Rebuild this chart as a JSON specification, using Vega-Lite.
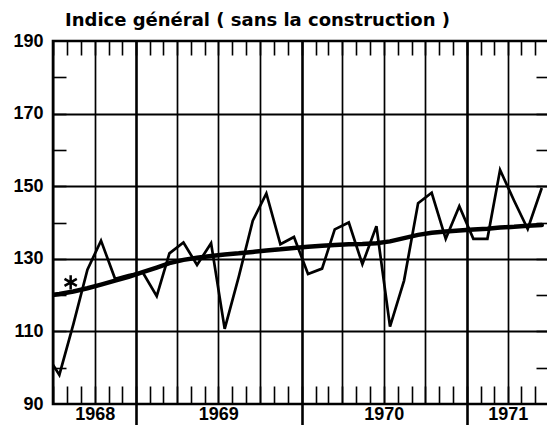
{
  "$schema": "https://vega.github.io/schema/vega-lite/v6.json",
  "width": 496,
  "height": 363,
  "autosize": {"type": "none"},
  "padding": {"left": 53, "top": 41, "right": 0, "bottom": 21},
  "background": "white",
  "title": {
    "text": "Indice général ( sans la construction )",
    "anchor": "start",
    "frame": "group",
    "dx": 12,
    "offset": -12,
    "baseline": "alphabetic",
    "font": "DejaVu Sans",
    "fontSize": 18,
    "fontWeight": "bold",
    "color": "black"
  },
  "datasets": {
    "serie": [
      {"date": "1968-06-15", "indice": 104, "tendance": 119.8},
      {"date": "1968-07-15", "indice": 98, "tendance": 120.3},
      {"date": "1968-08-15", "indice": 112, "tendance": 121},
      {"date": "1968-09-15", "indice": 127, "tendance": 121.9},
      {"date": "1968-10-15", "indice": 135, "tendance": 122.9},
      {"date": "1968-11-15", "indice": 124.5, "tendance": 124},
      {"date": "1968-12-15", "indice": 125.5, "tendance": 125},
      {"date": "1969-01-15", "indice": 126.3, "tendance": 126.3},
      {"date": "1969-02-15", "indice": 119.7, "tendance": 127.6},
      {"date": "1969-03-15", "indice": 131.5, "tendance": 128.8},
      {"date": "1969-04-15", "indice": 134.5, "tendance": 129.7},
      {"date": "1969-05-15", "indice": 128.3, "tendance": 130.3},
      {"date": "1969-06-15", "indice": 134.3, "tendance": 130.8},
      {"date": "1969-07-15", "indice": 110.7, "tendance": 131.2},
      {"date": "1969-08-15", "indice": 125, "tendance": 131.5},
      {"date": "1969-09-15", "indice": 140.5, "tendance": 131.9},
      {"date": "1969-10-15", "indice": 148, "tendance": 132.3},
      {"date": "1969-11-15", "indice": 134, "tendance": 132.6},
      {"date": "1969-12-15", "indice": 136, "tendance": 133},
      {"date": "1970-01-15", "indice": 125.8, "tendance": 133.3},
      {"date": "1970-02-15", "indice": 127.3, "tendance": 133.6},
      {"date": "1970-03-15", "indice": 138.1, "tendance": 133.8},
      {"date": "1970-04-15", "indice": 140, "tendance": 134},
      {"date": "1970-05-15", "indice": 128.5, "tendance": 134.1},
      {"date": "1970-06-15", "indice": 139, "tendance": 134.3},
      {"date": "1970-07-15", "indice": 111.3, "tendance": 134.8},
      {"date": "1970-08-15", "indice": 124, "tendance": 135.7},
      {"date": "1970-09-15", "indice": 145.3, "tendance": 136.6},
      {"date": "1970-10-15", "indice": 148.2, "tendance": 137.2},
      {"date": "1970-11-15", "indice": 135.5, "tendance": 137.5},
      {"date": "1970-12-15", "indice": 144.5, "tendance": 137.8},
      {"date": "1971-01-15", "indice": 135.5, "tendance": 138.1},
      {"date": "1971-02-15", "indice": 135.5, "tendance": 138.3},
      {"date": "1971-03-15", "indice": 154.5, "tendance": 138.6},
      {"date": "1971-04-15", "indice": 146, "tendance": 138.8},
      {"date": "1971-05-15", "indice": 138.2, "tendance": 139.1},
      {"date": "1971-06-15", "indice": 149.5, "tendance": 139.3}
    ],
    "asterisque": [
      {"date": "1968-08-09", "indice": 123.5}
    ]
  },
  "layer": [
    {
      "data": {"name": "serie"},
      "mark": {"type": "line", "color": "black", "strokeWidth": 2.7, "clip": true, "strokeJoin": "miter"},
      "encoding": {
        "x": {
          "field": "date",
          "type": "temporal",
          "scale": {
            "type": "utc",
            "domain": [
              {"year": 1968, "month": 7, "date": 1, "utc": true},
              {"year": 1971, "month": 7, "date": 1, "utc": true}
            ]
          },
          "axis": {
            "orient": "bottom",
            "title": null,
            "values": [
              {"year": 1968, "month": 10, "date": 1, "utc": true},
              {"year": 1969, "month": 1, "date": 1, "utc": true},
              {"year": 1969, "month": 7, "date": 1, "utc": true},
              {"year": 1970, "month": 1, "date": 1, "utc": true},
              {"year": 1970, "month": 7, "date": 1, "utc": true},
              {"year": 1971, "month": 1, "date": 1, "utc": true},
              {"year": 1971, "month": 4, "date": 1, "utc": true}
            ],
            "labelExpr": "utcmonth(datum.value) === 0 ? '' : utcFormat(datum.value, '%Y')",
            "labelFontSize": 18,
            "labelPadding": -21,
            "labelFlush": false,
            "labelOverlap": false,
            "tickSize": 22,
            "tickWidth": 2.6,
            "tickColor": "black",
            "tickOpacity": {"condition": {"test": "utcmonth(datum.value) === 0", "value": 1}, "value": 0},
            "grid": false,
            "domain": false
          }
        },
        "y": {
          "field": "indice",
          "type": "quantitative",
          "scale": {"domain": [90, 190], "nice": false, "zero": false},
          "axis": {
            "orient": "left",
            "title": null,
            "values": [90, 110, 130, 150, 170, 190],
            "ticks": false,
            "labelPadding": 10,
            "labelFontSize": 18,
            "labelFlush": false,
            "labelOverlap": false,
            "grid": false,
            "domain": false
          }
        }
      }
    },
    {
      "data": {"name": "serie"},
      "mark": {"type": "line", "color": "black", "strokeWidth": 4.5, "clip": true, "strokeCap": "round"},
      "encoding": {
        "x": {
          "field": "date",
          "type": "temporal",
          "axis": {
            "orient": "bottom",
            "title": null,
            "tickCount": {"interval": "month", "step": 1},
            "labels": false,
            "tickSize": -18,
            "tickWidth": 1.6,
            "tickColor": "black",
            "grid": true,
            "gridColor": "black",
            "gridWidth": {"condition": {"test": "utcmonth(datum.value) === 0", "value": 2.6}, "value": 1.7},
            "gridOpacity": {"condition": {"test": "utcmonth(datum.value) % 3 === 0", "value": 1}, "value": 0},
            "domain": false
          }
        },
        "y": {
          "field": "tendance",
          "type": "quantitative",
          "axis": {
            "orient": "left",
            "title": null,
            "values": [100, 110, 120, 130, 140, 150, 160, 170, 180],
            "labels": false,
            "tickSize": -13,
            "tickWidth": 1.6,
            "tickColor": "black",
            "grid": true,
            "gridColor": "black",
            "gridWidth": 2,
            "gridOpacity": {"condition": {"test": "datum.value % 20 === 10", "value": 1}, "value": 0},
            "domain": false
          }
        }
      }
    },
    {
      "data": {"name": "asterisque"},
      "mark": {
        "type": "point",
        "shape": "M0,-1L0,1M-0.87,-0.5L0.87,0.5M-0.87,0.5L0.87,-0.5",
        "size": 200,
        "filled": false,
        "color": "black",
        "strokeWidth": 2.5,
        "opacity": 1
      },
      "encoding": {
        "x": {
          "field": "date",
          "type": "temporal",
          "axis": {
            "orient": "top",
            "title": null,
            "tickCount": {"interval": "month", "step": 1},
            "labels": false,
            "tickSize": -14,
            "tickWidth": 1.6,
            "tickColor": "black",
            "grid": false,
            "domain": false
          }
        },
        "y": {
          "field": "indice",
          "type": "quantitative",
          "axis": {
            "orient": "right",
            "title": null,
            "values": [100, 110, 120, 130, 140, 150, 160, 170, 180],
            "labels": false,
            "tickSize": -13,
            "tickWidth": 1.6,
            "tickColor": "black",
            "grid": false,
            "domain": false
          }
        }
      }
    }
  ],
  "resolve": {"axis": {"x": "independent", "y": "independent"}},
  "config": {
    "view": {"stroke": "black", "strokeWidth": 2.6},
    "axis": {
      "labelFont": "Liberation Sans",
      "labelFontWeight": "bold",
      "labelColor": "black"
    }
  }
}
